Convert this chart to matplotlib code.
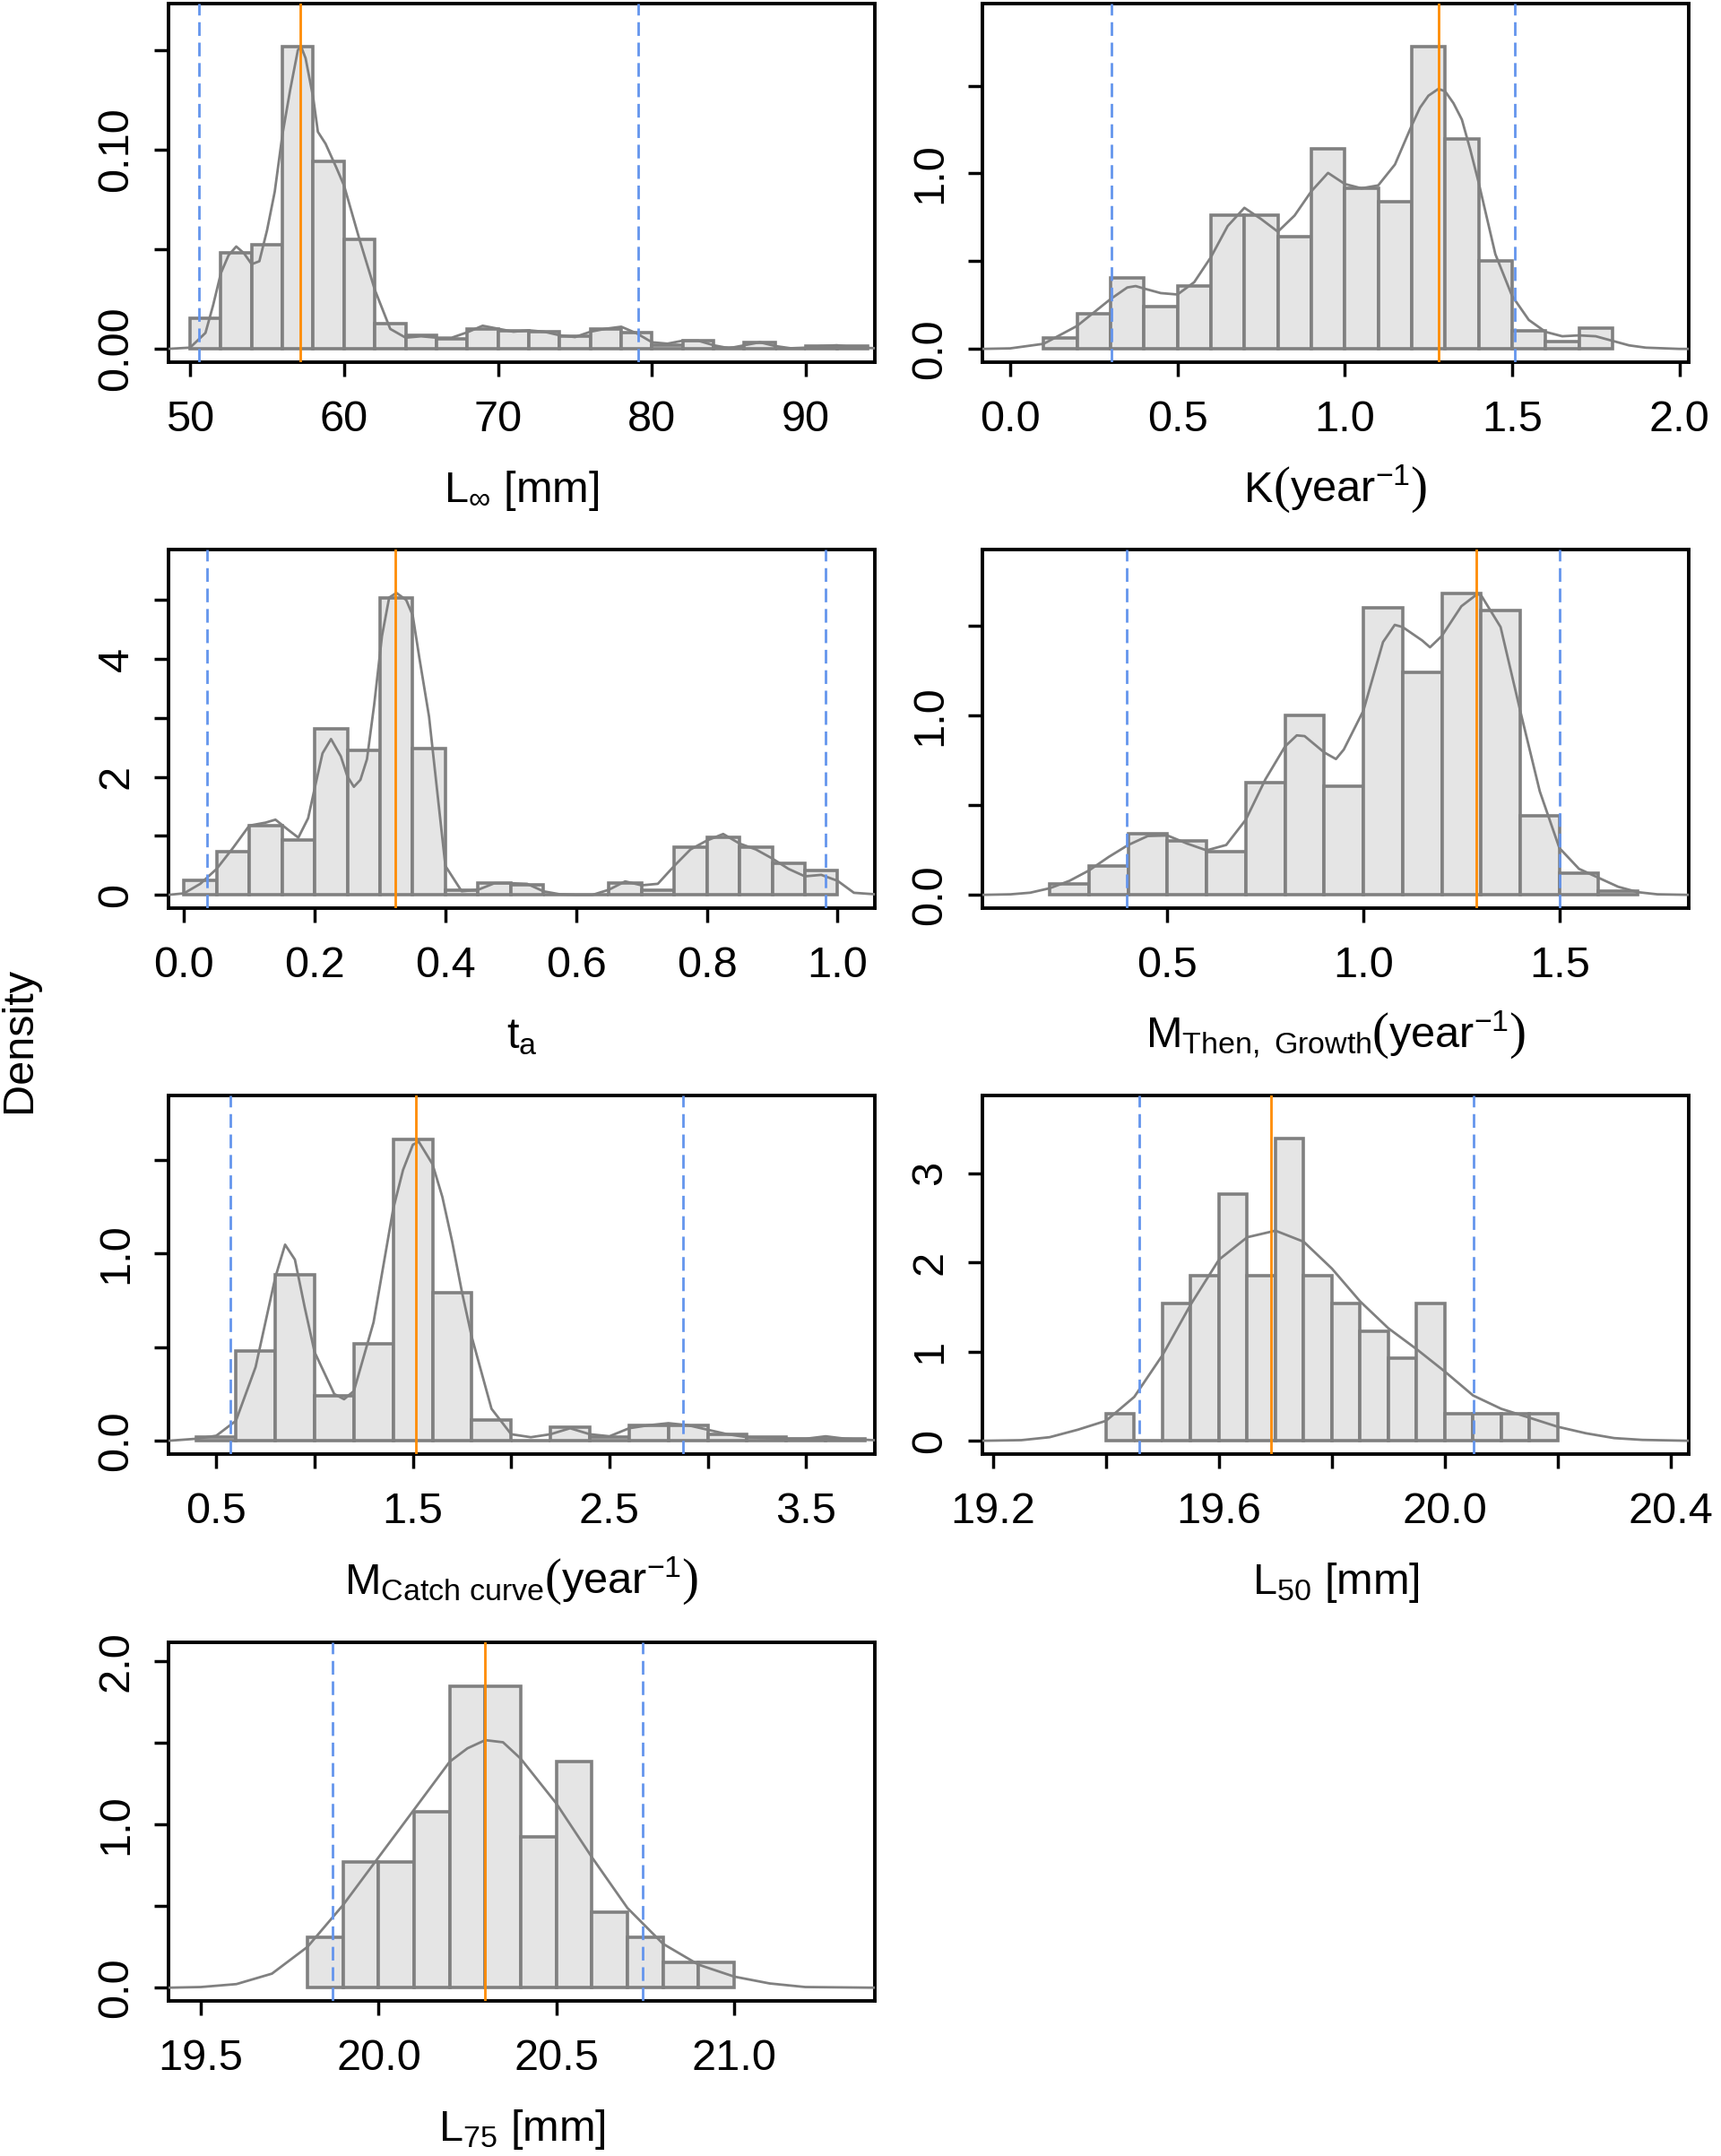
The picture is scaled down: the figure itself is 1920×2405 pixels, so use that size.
import matplotlib
matplotlib.use("Agg")
import matplotlib.pyplot as plt
import numpy as np

plt.rcParams["font.family"] = ["Liberation Sans", "DejaVu Sans"]
plt.rcParams["mathtext.fontset"] = "custom"
plt.rcParams["mathtext.rm"] = "Liberation Sans"
plt.rcParams["mathtext.it"] = "Liberation Sans"
plt.rcParams["mathtext.bf"] = "Liberation Sans"

BAR_FILL = "#e5e5e5"
GREY = "#808080"
ORANGE = "#ff8c00"
BLUE = "#6495ed"

# --- L infinity ---------------------------------------------------------
linf_edges = [50, 52, 54, 56, 58, 60, 62, 64, 66, 68, 70, 72, 74, 76, 78, 80,
              82, 84, 86, 88, 90, 92, 94]
linf_dens = [0.0153, 0.0483, 0.0524, 0.152, 0.0941, 0.0551, 0.0125, 0.0066,
             0.0051, 0.0101, 0.0090, 0.0086, 0.0063, 0.0101, 0.0083, 0.0018,
             0.0041, 0.0003, 0.0033, 0.0, 0.0014, 0.0014]
linf_kx = [48.6, 50, 51, 51.5, 52, 52.5, 53, 53.5, 54, 54.5, 55, 55.5, 56,
           56.5, 57, 57.2, 57.5, 58, 58.3, 58.8, 59.5, 60, 61, 62, 63, 64, 65,
           66, 67, 68, 69, 70, 71, 72, 73, 74, 75, 76, 77, 78, 79, 80, 81, 82,
           83, 84, 85, 86, 87, 88, 89, 90, 91, 92, 93, 94.5]
linf_ky = [0.0, 0.0006, 0.008, 0.022, 0.038, 0.047, 0.0514, 0.048, 0.0425,
           0.044, 0.0596, 0.079, 0.1077, 0.130, 0.150, 0.152, 0.146, 0.126,
           0.109, 0.103, 0.091, 0.082, 0.055, 0.0296, 0.010, 0.0056, 0.0063,
           0.0056, 0.0056, 0.0083, 0.0116, 0.0101, 0.0086, 0.0093, 0.0086,
           0.0068, 0.0059, 0.0086, 0.0101, 0.0111, 0.0078, 0.0033, 0.0026,
           0.0041, 0.0041, 0.0018, 0.0003, 0.0018, 0.0033, 0.0014, 0.0003,
           0.0006, 0.0014, 0.0018, 0.0008, 0.0003]
linf_mode = 57.13
linf_ci = [50.57, 79.13]

# --- K --------------------------------------------------------------------
k_edges = [0.1, 0.2, 0.3, 0.4, 0.5, 0.6, 0.7, 0.8, 0.9, 1.0, 1.1, 1.2, 1.3,
           1.4, 1.5, 1.6, 1.7, 1.8]
k_dens = [0.063, 0.199, 0.404, 0.242, 0.361, 0.761, 0.761, 0.642, 1.141,
          0.918, 0.841, 1.721, 1.199, 0.501, 0.102, 0.043, 0.119]
k_kx = [-0.083, 0.0, 0.1, 0.2, 0.3, 0.35, 0.375, 0.4, 0.45, 0.5, 0.55, 0.6,
        0.65, 0.7, 0.75, 0.8, 0.85, 0.9, 0.95, 1.0, 1.05, 1.1, 1.15, 1.2,
        1.225, 1.25, 1.28, 1.3, 1.325, 1.35, 1.375, 1.4, 1.45, 1.5, 1.55, 1.6,
        1.65, 1.7, 1.75, 1.8, 1.85, 1.9, 2.0, 2.03]
k_ky = [0.0, 0.003, 0.029, 0.131, 0.284, 0.350, 0.358, 0.344, 0.318, 0.310,
        0.380, 0.523, 0.700, 0.804, 0.740, 0.668, 0.760, 0.898, 1.003, 0.940,
        0.915, 0.932, 1.051, 1.273, 1.375, 1.443, 1.482, 1.468, 1.400, 1.307,
        1.136, 0.949, 0.540, 0.302, 0.165, 0.097, 0.072, 0.077, 0.072, 0.046,
        0.020, 0.007, 0.0, 0.0]
k_mode = 1.28
k_ci = [0.304, 1.507]

# --- t_a ------------------------------------------------------------------
ta_edges = [0.0, 0.05, 0.10, 0.15, 0.20, 0.25, 0.30, 0.35, 0.40, 0.45, 0.50,
            0.55, 0.60, 0.65, 0.70, 0.75, 0.80, 0.85, 0.90, 0.95, 1.00]
ta_dens = [0.248, 0.729, 1.174, 0.931, 2.809, 2.449, 5.035, 2.485, 0.086,
           0.197, 0.177, 0.0, 0.0, 0.197, 0.086, 0.805, 0.972, 0.805, 0.531,
           0.415]
ta_kx = [-0.024, 0.0, 0.025, 0.05, 0.075, 0.1, 0.125, 0.14, 0.16, 0.175,
         0.19, 0.2, 0.212, 0.225, 0.24, 0.25, 0.26, 0.27, 0.28, 0.291, 0.303,
         0.314, 0.325, 0.34, 0.35, 0.36, 0.375, 0.39, 0.4, 0.425, 0.45, 0.475,
         0.5, 0.525, 0.55, 0.575, 0.6, 0.625, 0.65, 0.675, 0.7, 0.725, 0.75,
         0.775, 0.8, 0.825, 0.85, 0.875, 0.9, 0.925, 0.95, 0.975, 1.0, 1.025,
         1.057]
ta_ky = [0.0, 0.025, 0.187, 0.44, 0.795, 1.174, 1.225, 1.275, 1.098, 0.97,
         1.30, 1.807, 2.40, 2.642, 2.35, 2.009, 1.832, 1.95, 2.30, 3.22, 4.39,
         5.04, 5.12, 5.00, 4.74, 4.03, 3.02, 1.50, 0.49, 0.06, 0.086, 0.197,
         0.197, 0.187, 0.06, 0.01, 0.0, 0.0, 0.086, 0.228, 0.162, 0.187, 0.49,
         0.77, 0.921, 1.032, 0.87, 0.77, 0.617, 0.44, 0.314, 0.339, 0.238,
         0.035, 0.01]
ta_mode = 0.324
ta_ci = [0.035, 0.982]

# --- M (Then, growth) -----------------------------------------------------
mg_edges = [0.2, 0.3, 0.4, 0.5, 0.6, 0.7, 0.8, 0.9, 1.0, 1.1, 1.2, 1.3, 1.4,
            1.5, 1.6, 1.7]
mg_dens = [0.062, 0.161, 0.339, 0.300, 0.240, 0.624, 1.002, 0.606, 1.601,
           1.240, 1.682, 1.584, 0.439, 0.120, 0.020]
mg_kx = [0.028, 0.1, 0.15, 0.2, 0.25, 0.3, 0.35, 0.4, 0.45, 0.5, 0.55, 0.6,
         0.65, 0.7, 0.75, 0.8, 0.83, 0.85, 0.9, 0.93, 0.95, 1.0, 1.05, 1.08,
         1.1, 1.15, 1.17, 1.2, 1.25, 1.29, 1.3, 1.35, 1.4, 1.45, 1.5, 1.55,
         1.6, 1.65, 1.7, 1.75, 1.83]
mg_ky = [0.0, 0.003, 0.012, 0.037, 0.078, 0.136, 0.211, 0.278, 0.328, 0.331,
         0.286, 0.248, 0.278, 0.419, 0.644, 0.827, 0.889, 0.885, 0.794, 0.757,
         0.81, 1.027, 1.409, 1.505, 1.493, 1.418, 1.38, 1.443, 1.609, 1.676,
         1.671, 1.493, 1.027, 0.577, 0.261, 0.145, 0.095, 0.045, 0.015, 0.003,
         0.0]
mg_mode = 1.289
mg_ci = [0.397, 1.50]

# --- M (catch curve) ------------------------------------------------------
mc_edges = [0.4, 0.6, 0.8, 1.0, 1.2, 1.4, 1.6, 1.8, 2.0, 2.2, 2.4, 2.6, 2.8,
            3.0, 3.2, 3.4, 3.6, 3.8]
mc_dens = [0.019, 0.482, 0.888, 0.242, 0.520, 1.611, 0.793, 0.110, 0.0,
           0.072, 0.022, 0.081, 0.081, 0.032, 0.018, 0.011, 0.011]
mc_kx = [0.257, 0.4, 0.5, 0.6, 0.7, 0.75, 0.8, 0.85, 0.9, 0.95, 1.0, 1.1,
         1.15, 1.2, 1.3, 1.4, 1.45, 1.5, 1.53, 1.6, 1.65, 1.7, 1.75, 1.8, 1.9,
         2.0, 2.1, 2.2, 2.3, 2.4, 2.5, 2.6, 2.7, 2.8, 2.9, 3.0, 3.1, 3.2, 3.3,
         3.4, 3.5, 3.6, 3.7, 3.85]
mc_ky = [0.0, 0.011, 0.027, 0.107, 0.394, 0.633, 0.872, 1.048, 0.968, 0.712,
         0.474, 0.25, 0.222, 0.266, 0.633, 1.239, 1.447, 1.582, 1.598, 1.478,
         1.303, 1.064, 0.793, 0.553, 0.171, 0.035, 0.019, 0.035, 0.067, 0.035,
         0.024, 0.067, 0.083, 0.094, 0.083, 0.059, 0.035, 0.019, 0.014, 0.011,
         0.011, 0.024, 0.011, 0.003]
mc_mode = 1.514
mc_ci = [0.573, 2.873]

# --- L50 ------------------------------------------------------------------
l50_edges = [19.40, 19.45, 19.50, 19.55, 19.60, 19.65, 19.70, 19.75, 19.80,
             19.85, 19.90, 19.95, 20.00, 20.05, 20.10, 20.15, 20.20]
l50_dens = [0.308, 0.0, 1.538, 1.846, 2.769, 1.846, 3.385, 1.846, 1.538,
            1.231, 0.923, 1.538, 0.308, 0.308, 0.308, 0.308]
l50_kx = [19.181, 19.25, 19.3, 19.35, 19.4, 19.45, 19.5, 19.55, 19.6, 19.65,
          19.7, 19.75, 19.8, 19.85, 19.9, 19.95, 20.0, 20.05, 20.1, 20.15,
          20.2, 20.25, 20.3, 20.35, 20.432]
l50_ky = [0.0, 0.007, 0.04, 0.124, 0.224, 0.492, 0.96, 1.528, 2.03, 2.281,
          2.355, 2.231, 1.93, 1.562, 1.261, 1.027, 0.776, 0.508, 0.358, 0.258,
          0.157, 0.084, 0.03, 0.01, 0.0]
l50_mode = 19.692
l50_ci = [19.459, 20.051]

# --- L75 ------------------------------------------------------------------
l75_edges = [19.8, 19.9, 20.0, 20.1, 20.2, 20.3, 20.4, 20.5, 20.6, 20.7,
             20.8, 20.9, 21.0]
l75_dens = [0.308, 0.769, 0.769, 1.077, 1.846, 1.846, 0.923, 1.385, 0.462,
            0.308, 0.154, 0.154]
l75_kx = [19.409, 19.5, 19.6, 19.7, 19.8, 19.9, 20.0, 20.1, 20.2, 20.25, 20.3,
          20.35, 20.4, 20.45, 20.5, 20.6, 20.7, 20.8, 20.9, 21.0, 21.1, 21.2,
          21.396]
l75_ky = [0.0, 0.004, 0.022, 0.086, 0.25, 0.506, 0.799, 1.091, 1.384, 1.466,
          1.516, 1.503, 1.402, 1.265, 1.128, 0.799, 0.488, 0.269, 0.141, 0.068,
          0.026, 0.004, 0.0]
l75_mode = 20.30
l75_ci = [19.870, 20.742]

UNIT = r"year$^{-1}$"

# label (prefix, unit in big parens or None), edges, dens, kde x, kde y, mode,
# ci, xlim, ylim, xticks, xlabels, yticks, ylabels
panels = [
    ((r"L$_{\infty}$ [mm]", None), linf_edges, linf_dens, linf_kx, linf_ky,
     linf_mode, linf_ci, (48.6, 94.47), (-0.0067, 0.1734),
     [50, 60, 70, 80, 90], ["50", "60", "70", "80", "90"],
     [0, 0.05, 0.10, 0.15], ["0.00", "", "0.10", ""]),
    (("K", UNIT), k_edges, k_dens, k_kx, k_ky,
     k_mode, k_ci, (-0.083, 2.028), (-0.0757, 1.968),
     [0, 0.5, 1.0, 1.5, 2.0], ["0.0", "0.5", "1.0", "1.5", "2.0"],
     [0, 0.5, 1.0, 1.5], ["0.0", "", "1.0", ""]),
    ((r"t$_\mathrm{a}$", None), ta_edges, ta_dens, ta_kx, ta_ky, ta_mode,
     ta_ci, (-0.0236, 1.057), (-0.225, 5.855),
     [0, 0.2, 0.4, 0.6, 0.8, 1.0], ["0.0", "0.2", "0.4", "0.6", "0.8", "1.0"],
     [0, 1, 2, 3, 4, 5], ["0", "", "2", "", "4", ""]),
    ((r"M$_\mathrm{Then,\ Growth}$", UNIT), mg_edges,
     mg_dens, mg_kx, mg_ky, mg_mode, mg_ci, (0.028, 1.830), (-0.074, 1.925),
     [0.5, 1.0, 1.5], ["0.5", "1.0", "1.5"],
     [0, 0.5, 1.0, 1.5], ["0.0", "", "1.0", ""]),
    ((r"M$_\mathrm{Catch\ curve}$", UNIT), mc_edges,
     mc_dens, mc_kx, mc_ky, mc_mode, mc_ci, (0.257, 3.85), (-0.071, 1.845),
     [0.5, 1.0, 1.5, 2.0, 2.5, 3.0, 3.5],
     ["0.5", "", "1.5", "", "2.5", "", "3.5"],
     [0, 0.5, 1.0, 1.5], ["0.0", "", "1.0", ""]),
    ((r"L$_{50}$ [mm]", None), l50_edges, l50_dens, l50_kx, l50_ky, l50_mode,
     l50_ci, (19.181, 20.432), (-0.149, 3.87),
     [19.2, 19.4, 19.6, 19.8, 20.0, 20.2, 20.4],
     ["19.2", "", "19.6", "", "20.0", "", "20.4"],
     [0, 1, 2, 3], ["0", "1", "2", "3"]),
    ((r"L$_{75}$ [mm]", None), l75_edges, l75_dens, l75_kx, l75_ky, l75_mode,
     l75_ci, (19.409, 21.396), (-0.081, 2.115),
     [19.5, 20.0, 20.5, 21.0], ["19.5", "20.0", "20.5", "21.0"],
     [0, 0.5, 1.0, 1.5, 2.0], ["0.0", "", "1.0", "", "2.0"]),
]

W, H = 1920, 2405
col_left = [188, 1096]
ax_w = 788
row_top = [4, 613, 1222, 1832]
ax_h = 400
LABEL_Y = -0.39

fig = plt.figure(figsize=(W / 100, H / 100), dpi=100)
renderer = fig.canvas.get_renderer()


def axis_label(ax, prefix, unit):
    # plotmath-like label: the unit sits in tall serif parentheses
    if unit is None:
        ax.text(0.5, LABEL_Y, prefix, transform=ax.transAxes, ha="center",
                va="baseline", fontsize=35)
        return
    paren = dict(fontsize=41, family="Liberation Serif")
    pieces = [(prefix, {}), ("(", paren), (unit, {}), (")", paren)]
    texts = []
    for s, kw in pieces:
        opts = dict(fontsize=35)
        opts.update(kw)
        texts.append(ax.text(0, LABEL_Y, s, transform=ax.transAxes,
                             ha="left", va="baseline", **opts))
    widths = [t.get_window_extent(renderer).width for t in texts]
    axw = ax.get_window_extent(renderer).width
    x = 0.5 - sum(widths) / 2 / axw
    for t, w in zip(texts, widths):
        t.set_x(x)
        x += w / axw


for i, ((prefix, unit), edges, dens, kx, ky, mode, ci, xlim, ylim,
        xt, xtl, yt, ytl) in enumerate(panels):
    r, c = divmod(i, 2)
    ax = fig.add_axes([col_left[c] / W, 1 - (row_top[r] + ax_h) / H,
                       ax_w / W, ax_h / H])
    edges = np.asarray(edges)
    ax.bar(edges[:-1], dens, width=np.diff(edges), align="edge",
           color=BAR_FILL, edgecolor=GREY, linewidth=2.6, zorder=2)
    ax.plot(kx, ky, color=GREY, linewidth=2.0, zorder=3)
    ax.axvline(mode, color=ORANGE, linewidth=2.0, zorder=4)
    for v in ci:
        ax.axvline(v, color=BLUE, linewidth=2.0, dashes=(5.5, 2.7), zorder=4)

    ax.set_xlim(*xlim)
    ax.set_ylim(*ylim)
    ax.set_xticks(xt)
    ax.set_xticklabels(xtl)
    ax.set_yticks(yt)
    ax.set_yticklabels(ytl, rotation=90, va="center")
    ax.tick_params(axis="both", labelsize=35, length=11.5, width=2.5,
                   direction="out")
    ax.tick_params(axis="x", pad=19)
    ax.tick_params(axis="y", pad=14)
    for sp in ax.spines.values():
        sp.set_linewidth(2.8)
    axis_label(ax, prefix, unit)

fig.text(22 / W, 1 - 1160 / H, "Density", rotation=90, ha="center",
         va="center", fontsize=35)

fig.savefig("out.png", dpi=100)
